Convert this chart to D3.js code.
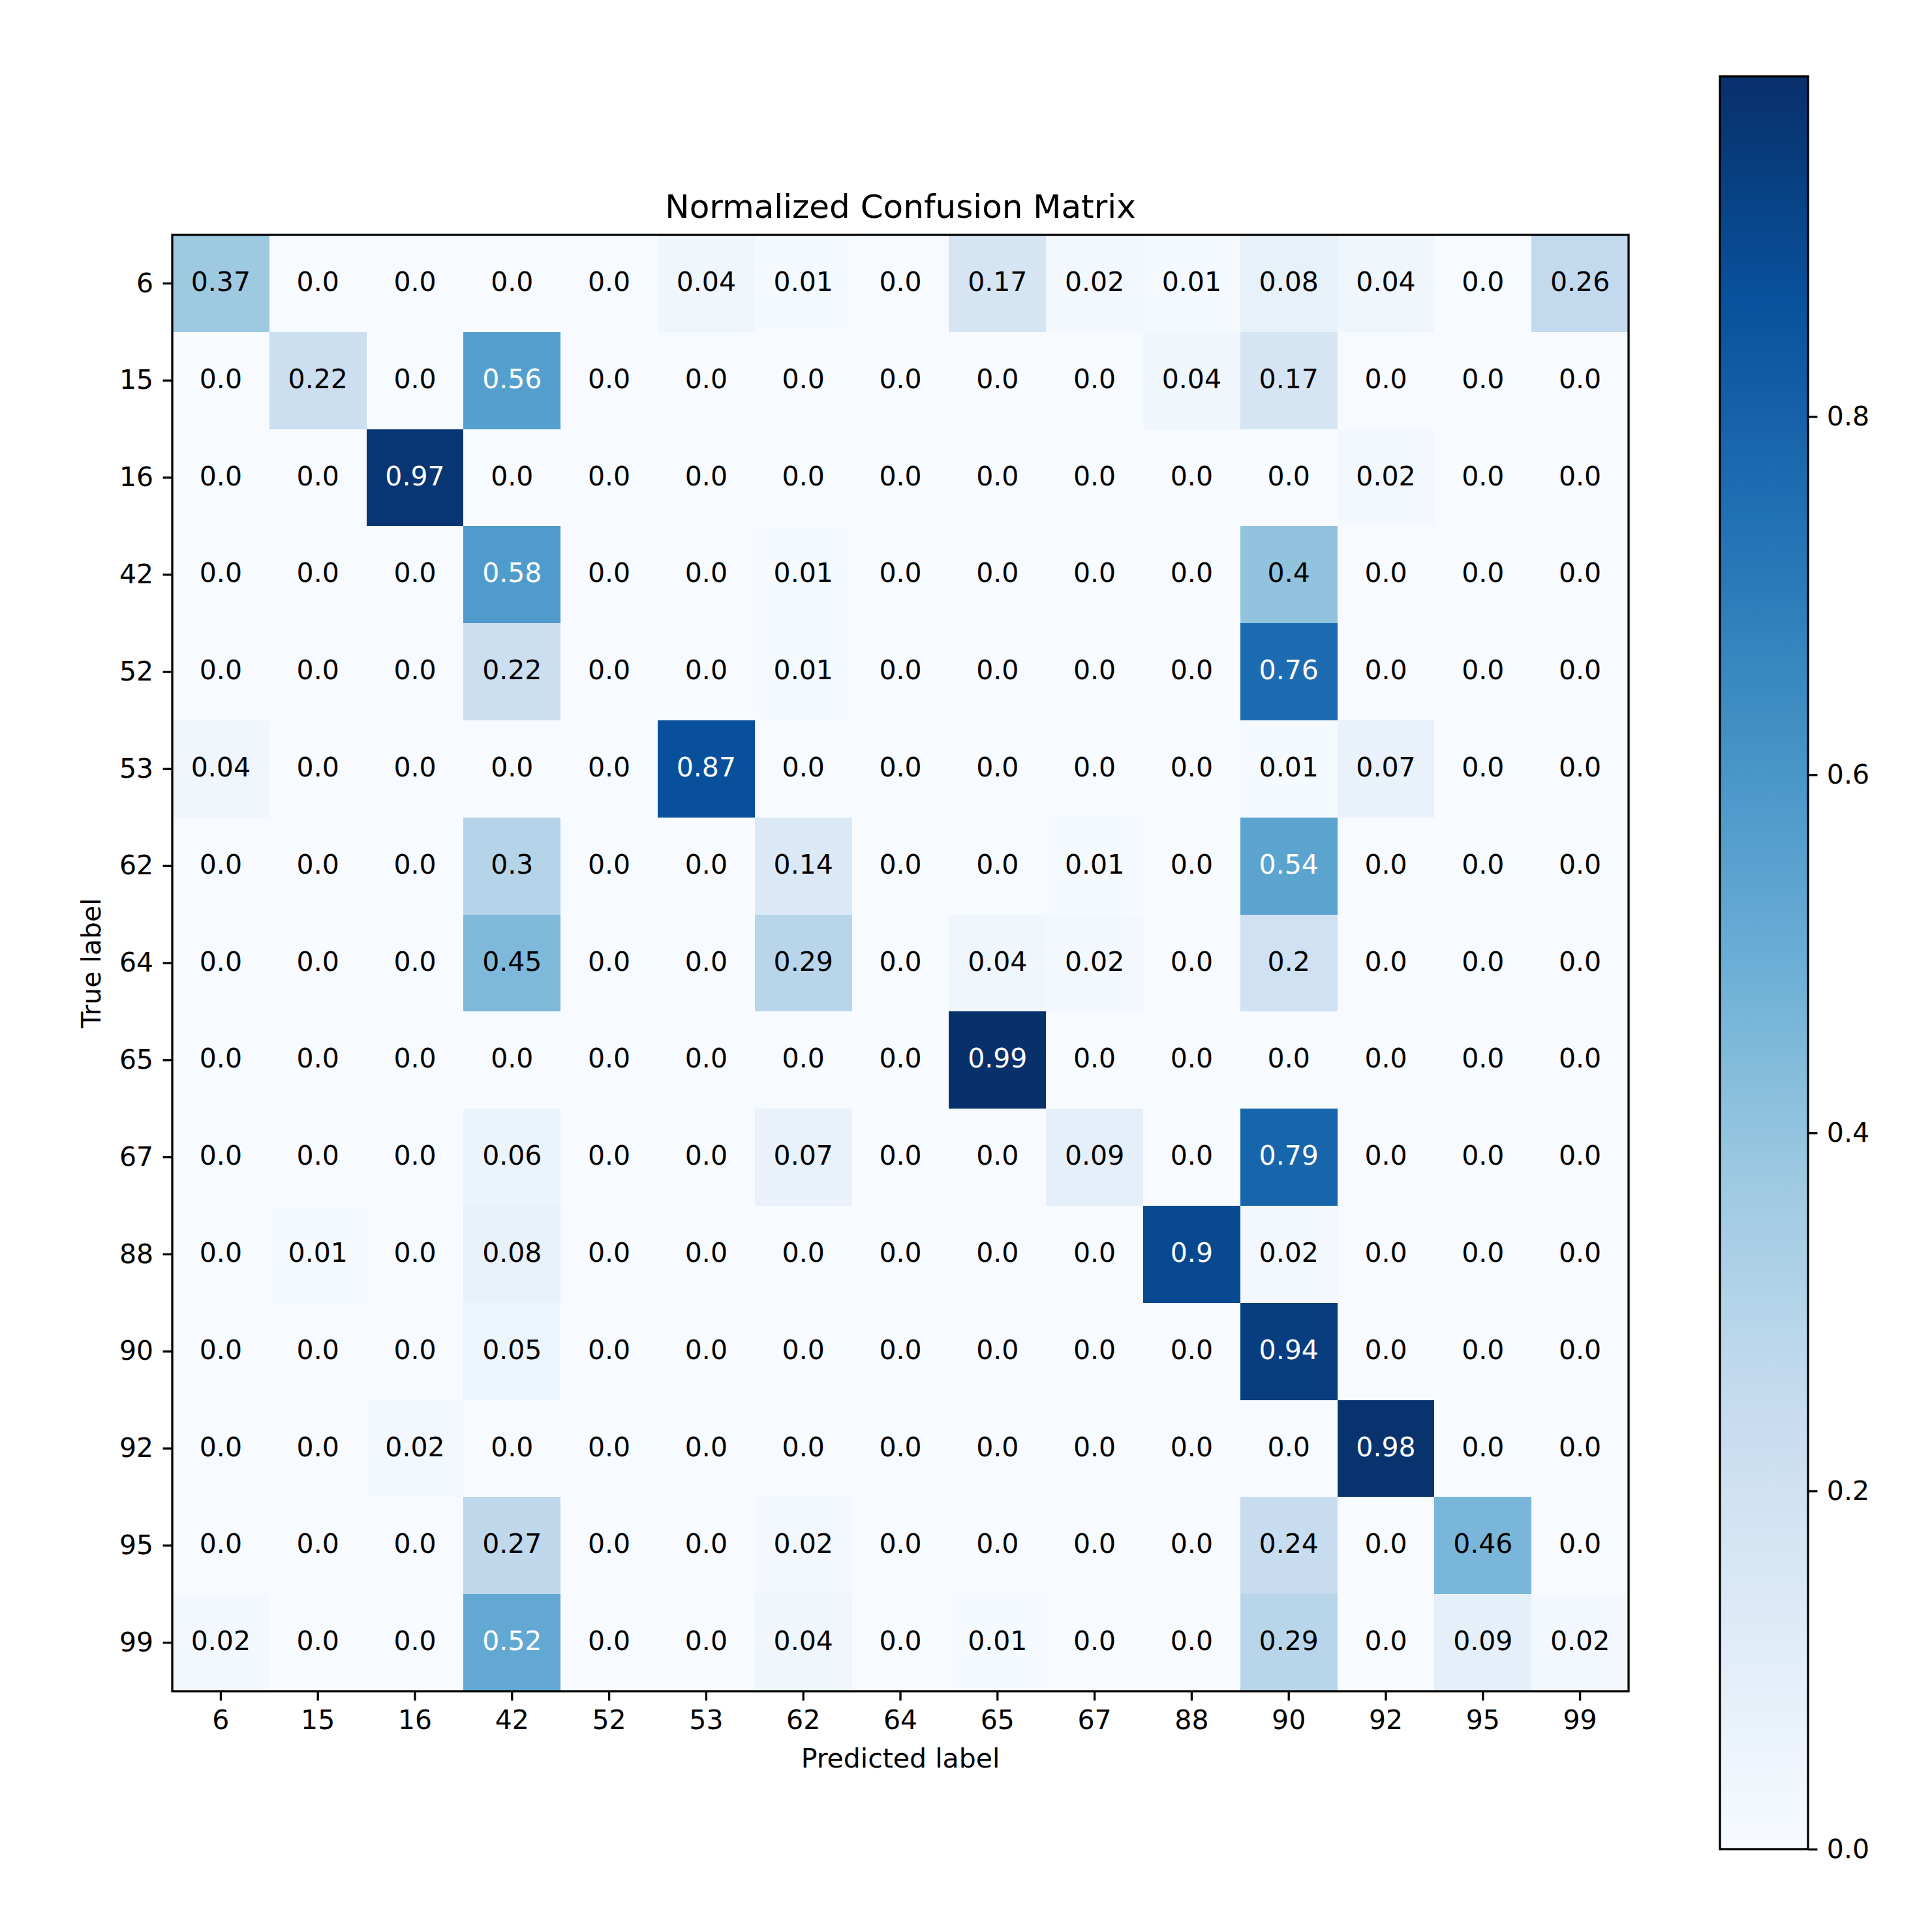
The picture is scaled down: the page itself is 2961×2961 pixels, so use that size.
<!DOCTYPE html>
<html>
<head>
<meta charset="utf-8">
<script src="https://cdn.jsdelivr.net/npm/d3@7"></script>
<style>
  html, body { margin: 0; padding: 0; background: #ffffff; }
  svg { display: block; }
  text { font-family: "DejaVu Sans", sans-serif; }
</style>
</head>
<body>
<script>
// ---------- data ----------
const labels = ["6","15","16","42","52","53","62","64","65","67","88","90","92","95","99"];
const row6  = [0.37,0.0,0.0,0.0,0.0,0.04,0.01,0.0,0.17,0.02,0.01,0.08,0.04,0.0,0.26];
const row15 = [0.0,0.22,0.0,0.56,0.0,0.0,0.0,0.0,0.0,0.0,0.04,0.17,0.0,0.0,0.0];
const row16 = [0.0,0.0,0.97,0.0,0.0,0.0,0.0,0.0,0.0,0.0,0.0,0.0,0.02,0.0,0.0];
const row42 = [0.0,0.0,0.0,0.58,0.0,0.0,0.01,0.0,0.0,0.0,0.0,0.4,0.0,0.0,0.0];
const row52 = [0.0,0.0,0.0,0.22,0.0,0.0,0.01,0.0,0.0,0.0,0.0,0.76,0.0,0.0,0.0];
const row53 = [0.04,0.0,0.0,0.0,0.0,0.87,0.0,0.0,0.0,0.0,0.0,0.01,0.07,0.0,0.0];
const row62 = [0.0,0.0,0.0,0.3,0.0,0.0,0.14,0.0,0.0,0.01,0.0,0.54,0.0,0.0,0.0];
const row64 = [0.0,0.0,0.0,0.45,0.0,0.0,0.29,0.0,0.04,0.02,0.0,0.2,0.0,0.0,0.0];
const row65 = [0.0,0.0,0.0,0.0,0.0,0.0,0.0,0.0,0.99,0.0,0.0,0.0,0.0,0.0,0.0];
const row67 = [0.0,0.0,0.0,0.06,0.0,0.0,0.07,0.0,0.0,0.09,0.0,0.79,0.0,0.0,0.0];
const row88 = [0.0,0.01,0.0,0.08,0.0,0.0,0.0,0.0,0.0,0.0,0.9,0.02,0.0,0.0,0.0];
const row90 = [0.0,0.0,0.0,0.05,0.0,0.0,0.0,0.0,0.0,0.0,0.0,0.94,0.0,0.0,0.0];
const row92 = [0.0,0.0,0.02,0.0,0.0,0.0,0.0,0.0,0.0,0.0,0.0,0.0,0.98,0.0,0.0];
const row95 = [0.0,0.0,0.0,0.27,0.0,0.0,0.02,0.0,0.0,0.0,0.0,0.24,0.0,0.46,0.0];
const row99 = [0.02,0.0,0.0,0.52,0.0,0.0,0.04,0.0,0.01,0.0,0.0,0.29,0.0,0.09,0.02];
const matrix = [row6,row15,row16,row42,row52,row53,row62,row64,row65,row67,row88,row90,row92,row95,row99];
const colorbarTicks = [0.0, 0.2, 0.4, 0.6, 0.8];
const titleText = "Normalized Confusion Matrix";
const xLabelText = "Predicted label";
const yLabelText = "True label";

// matplotlib "Blues" anchor colours
const bluesStops = ["#f7fbff","#deebf7","#c6dbef","#9ecae1","#6baed6","#4292c6","#2171b5","#08519c","#08306b"];

// ---------- layout ----------
const W = 2961, H = 2961;
const plot = { left: 264, top: 360, size: 2232 };
const cbar = { left: 2636, right: 2771, top: 117, bottom: 2834 };
const fs = 41, titleFs = 50;
const tickLen = 14.4, tickPad = 14.4, lw = 3.3;

const svg = d3.select("body").append("svg")
  .attr("width", W).attr("height", H)
  .attr("viewBox", `0 0 ${W} ${H}`);

const cells = [];
matrix.forEach((row, i) => row.forEach((v, j) => cells.push({ r: labels[i], c: labels[j], v })));
const vmax = d3.max(cells, d => d.v);
const vmin = 0;

const cmap = d3.scaleLinear()
  .domain(d3.range(bluesStops.length).map(k => k / (bluesStops.length - 1)))
  .range(bluesStops)
  .interpolate(d3.interpolateRgb)
  .clamp(true);
const color = v => cmap((v - vmin) / (vmax - vmin));

const x = d3.scaleBand().domain(labels).range([plot.left, plot.left + plot.size]);
const y = d3.scaleBand().domain(labels).range([plot.top, plot.top + plot.size]);

// cells
const g = svg.append("g");
g.selectAll("rect.cell").data(cells).enter().append("rect")
  .attr("class", "cell")
  .attr("x", d => x(d.c)).attr("y", d => y(d.r))
  .attr("width", x.bandwidth() + 0.5).attr("height", y.bandwidth() + 0.5)
  .attr("fill", d => color(d.v))
  .attr("shape-rendering", "crispEdges");

const fmt = v => Number.isInteger(v) ? v.toFixed(1) : String(v);
g.selectAll("text.val").data(cells).enter().append("text")
  .attr("class", "val")
  .attr("x", d => x(d.c) + x.bandwidth() / 2)
  .attr("y", d => y(d.r) + y.bandwidth() / 2 + 11.6)
  .attr("text-anchor", "middle")
  .attr("font-size", fs)
  .attr("fill", d => d.v > vmax / 2 ? "#ffffff" : "#000000")
  .text(d => fmt(d.v));

// frame
svg.append("rect")
  .attr("x", plot.left).attr("y", plot.top)
  .attr("width", plot.size).attr("height", plot.size)
  .attr("fill", "none").attr("stroke", "#000").attr("stroke-width", lw);

// axes
function styleAxis(sel) {
  sel.select(".domain").remove();
  sel.selectAll(".tick line").attr("stroke", "#000").attr("stroke-width", lw);
  sel.selectAll(".tick text").attr("font-size", fs).attr("fill", "#000")
    .attr("font-family", "DejaVu Sans");
}
svg.append("g")
  .attr("transform", `translate(0,${plot.top + plot.size})`)
  .call(d3.axisBottom(x).tickSize(tickLen).tickPadding(tickPad))
  .call(styleAxis);
svg.append("g")
  .attr("transform", `translate(${plot.left},0)`)
  .call(d3.axisLeft(y).tickSize(tickLen).tickPadding(tickPad))
  .call(styleAxis);

// title & labels
svg.append("text")
  .attr("x", plot.left + plot.size / 2).attr("y", 334)
  .attr("text-anchor", "middle").attr("font-size", titleFs).attr("fill", "#000")
  .text(titleText);
svg.append("text")
  .attr("x", plot.left + plot.size / 2).attr("y", 2709)
  .attr("text-anchor", "middle").attr("font-size", fs).attr("fill", "#000")
  .text(xLabelText);
svg.append("text")
  .attr("transform", `translate(154,${plot.top + plot.size / 2}) rotate(-90)`)
  .attr("text-anchor", "middle").attr("font-size", fs).attr("fill", "#000")
  .text(yLabelText);

// colorbar
const cy = d3.scaleLinear().domain([vmin, vmax]).range([cbar.bottom, cbar.top]);
const defs = svg.append("defs");
const grad = defs.append("linearGradient").attr("id", "cbgrad")
  .attr("x1", 0).attr("y1", 1).attr("x2", 0).attr("y2", 0);
grad.selectAll("stop").data(d3.range(0, 1.0001, 1 / 64)).enter().append("stop")
  .attr("offset", t => t)
  .attr("stop-color", t => cmap(t));
svg.append("rect")
  .attr("x", cbar.left).attr("y", cy(vmax))
  .attr("width", cbar.right - cbar.left).attr("height", cy(vmin) - cy(vmax))
  .attr("fill", "url(#cbgrad)")
  .attr("stroke", "#000").attr("stroke-width", lw);
svg.append("g")
  .attr("transform", `translate(${cbar.right},0)`)
  .call(d3.axisRight(cy).tickValues(colorbarTicks).tickFormat(d3.format(".1f"))
    .tickSize(tickLen).tickPadding(tickPad))
  .call(styleAxis);
</script>
</body>
</html>
